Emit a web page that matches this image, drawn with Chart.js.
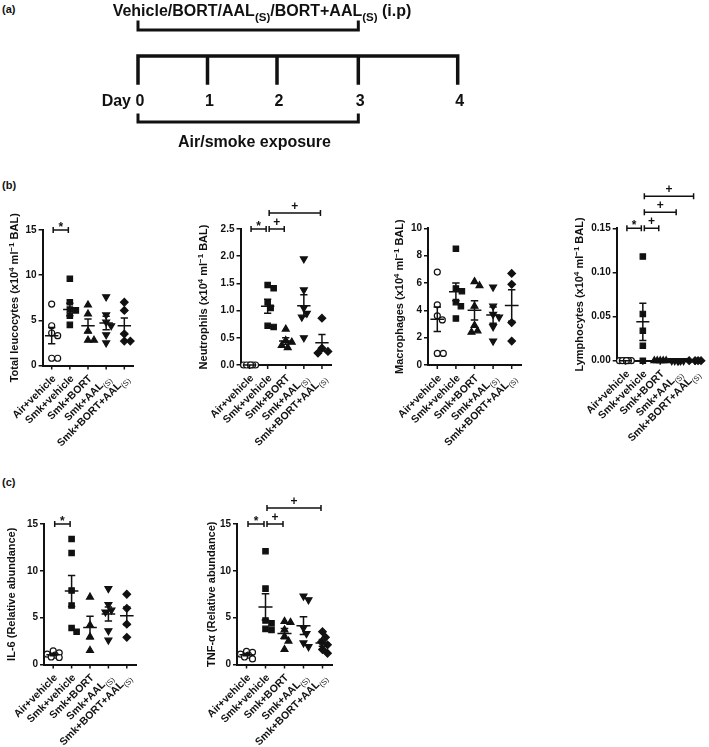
<!DOCTYPE html>
<html>
<head>
<meta charset="utf-8">
<script src="https://cdn.jsdelivr.net/npm/chart.js@4.4.0/dist/chart.umd.min.js"></script>
<style>
  body { margin: 0; background: #fff; width: 709px; height: 747px; position: relative; overflow: hidden; font-family: 'Liberation Sans', Arial, sans-serif; }
  canvas { position: absolute; }
  .panel { position: absolute; left: 2px; font-size: 11px; font-weight: bold; color: #111; }
</style>
</head>
<body>
<div class="panel" style="top:3px">(a)</div>
<div class="panel" style="top:179px">(b)</div>
<div class="panel" style="top:476px">(c)</div>

<script>
// groups, markers
const categories = ['Air+vehicle', 'Smk+vehicle', 'Smk+BORT', 'Smk+AAL(S)', 'Smk+BORT+AAL(S)'];
const markerStyle = ['circle', 'rect', 'triangle', 'triangle', 'rectRot'];
const markerRotation = [0, 0, 0, 180, 0];
const markerFill = ['#fff', '#111', '#111', '#111', '#111'];
const markerRadius = [3, 3.8, 4, 4, 3.8];

// (a) protocol timeline
const dayLabels = ['0', '1', '2', '3', '4'];
const dayAt = [0, 1, 2, 3.17, 4.6];
const treatmentDays = [0, 3];
const exposureDays = [0, 3];

// (b) BAL cells (x10^4 per ml)
const leucocytes = [[6.8, 4.4, 3.6, 3.3, 0.8, 0.8], [9.6, 7.0, 6.2, 6.1, 5.5, 4.5], [6.7, 5.7, 3.8, 2.8, 2.8], [7.6, 5.6, 4.8, 4.4, 3.4, 2.5], [7.0, 6.1, 3.5, 2.7, 2.7]];
const leucocytesMean = [3.3, 6.2, 4.4, 4.7, 4.4];
const leucocytesSem = [0.9, 0.7, 0.75, 0.75, 0.85];
const leucocytesTicks = [0, 5, 10, 15];

const neutrophils = [[0, 0, 0, 0, 0, 0], [1.47, 1.41, 1.15, 1.05, 0.72, 0.70], [0.66, 0.45, 0.42, 0.36, 0.32], [1.95, 1.38, 1.05, 0.95, 0.88, 0.5], [0.86, 0.31, 0.25, 0.22]];
const neutrophilsMean = [0, 1.08, 0.44, 1.09, 0.41];
const neutrophilsSem = [0, 0.13, 0.06, 0.2, 0.15];
const neutrophilsTicks = [0, 0.5, 1.0, 1.5, 2.0, 2.5];

const macrophages = [[6.8, 4.4, 3.6, 3.3, 0.85, 0.85], [8.5, 5.6, 5.4, 4.6, 4.3, 3.4], [6.1, 5.8, 4.3, 2.9, 2.5, 2.4], [5.7, 4.3, 3.7, 3.5, 2.8, 1.75], [6.7, 5.9, 3.1, 1.75]];
const macrophagesMean = [3.35, 5.35, 4.0, 3.65, 4.35];
const macrophagesSem = [0.9, 0.65, 0.7, 0.6, 1.15];
const macrophagesTicks = [0, 2, 4, 6, 8, 10];

const lymphocytes = [[0, 0, 0, 0, 0, 0], [0.118, 0.053, 0.034, 0.017, 0], [0, 0, 0, 0, 0], [0, 0, 0, 0, 0, 0], [0, 0, 0, 0]];
const lymphocytesMean = [0, 0.044, 0, 0, 0];
const lymphocytesSem = [0, 0.021, 0, 0, 0];
const lymphocytesTicks = [0, 0.05, 0.10, 0.15];

// (c) relative abundance
const il6 = [[1.45, 1.25, 1.1, 1.0, 0.8, 0.75], [13.4, 11.9, 7.9, 6.3, 3.9, 3.5], [7.2, 4.2, 2.95, 1.5], [8.1, 6.4, 5.8, 5.6, 3.6, 2.6], [7.5, 6.0, 4.3, 2.9]];
const il6Mean = [1.05, 7.85, 3.95, 5.4, 5.2];
const il6Sem = [0.12, 1.65, 1.2, 0.75, 0.95];
const il6Ticks = [0, 5, 10, 15];

const tnf = [[1.4, 1.3, 1.1, 1.0, 0.8, 0.6], [12.1, 8.1, 4.7, 4.4, 3.8, 3.7], [4.6, 4.5, 3.7, 3.0, 2.5, 1.6], [7.3, 6.9, 3.9, 3.3, 2.3, 1.9], [3.5, 2.9, 2.4, 2.1, 1.6, 1.2]];
const tnfMean = [1.05, 6.15, 3.3, 4.15, 2.3];
const tnfSem = [0.12, 1.4, 0.55, 0.95, 0.36];
const tnfTicks = [0, 5, 10, 15];

// significance brackets: from/to group, stacking tier, symbol
const leucocytesSig = [{ from: 0, to: 1, tier: 0, sym: '*' }];
const neutrophilsSig = [{ from: 0, to: 1, tier: 0, sym: '*' }, { from: 1, to: 2, tier: 0, sym: '+' }, { from: 1, to: 4, tier: 1, sym: '+' }];
const lymphocytesSig = [{ from: 0, to: 1, tier: 0, sym: '*' }, { from: 1, to: 2, tier: 0, sym: '+' }, { from: 1, to: 3, tier: 1, sym: '+' }, { from: 1, to: 4, tier: 2, sym: '+' }];
const il6Sig = [{ from: 0, to: 1, tier: 0, sym: '*' }];
const tnfSig = [{ from: 0, to: 1, tier: 0, sym: '*' }, { from: 1, to: 2, tier: 0, sym: '+' }, { from: 1, to: 4, tier: 1, sym: '+' }];

const FONT = '"Liberation Sans", Arial, sans-serif';
const INK = '#111';
Chart.defaults.font.family = FONT;
Chart.defaults.color = INK;

// text with sub/superscripts: parts = [[text, ''|'sup'|'sub'], ...]
function drawRich(ctx, parts, x, y, size, align, subBold) {
    const fontFor = p => {
        const s = p[1] ? size * 0.72 : size;
        const w = (p[1] === 'sub' && !subBold) ? '' : 'bold ';
        return w + s + 'px ' + FONT;
    };
    let total = 0;
    const widths = parts.map(p => {
        ctx.font = fontFor(p);
        const w = ctx.measureText(p[0]).width;
        total += w;
        return w;
    });
    let cx = align === 'right' ? x - total : align === 'center' ? x - total / 2 : x;
    ctx.textAlign = 'left';
    ctx.textBaseline = 'alphabetic';
    ctx.fillStyle = INK;
    parts.forEach((p, i) => {
        ctx.font = fontFor(p);
        const dy = p[1] === 'sup' ? -size * 0.38 : p[1] === 'sub' ? size * 0.3 : 0;
        ctx.fillText(p[0], cx, y + dy);
        cx += widths[i];
    });
}

function labelParts(str) {
    return str.endsWith('(S)') ? [[str.slice(0, -3), ''], ['(S)', 'sub']] : [[str, '']];
}

function perMl(name) {
    return [[name + ' (x10', ''], ['4', 'sup'], [' ml', ''], ['\u22121', 'sup'], [' BAL)', '']];
}

// small beeswarm: each point takes the sideways slot (within +/-6 px) that keeps it
// farthest from points already placed, nearest the centre on ties
function spread(vals, ppu, unitPx) {
    const order = vals.map((v, j) => j).sort((a, b) => vals[b] - vals[a]);
    const slots = [0];
    for (let k = 1; k <= 6; k++) slots.push(k, -k);
    const placed = [];
    const off = vals.map(() => 0);
    order.forEach(j => {
        const py = vals[j] * ppu;
        let best = 0, bestScore = -1;
        slots.forEach(s => {
            let d = 6;
            placed.forEach(p => { d = Math.min(d, Math.hypot(p.x - s, p.y - py)); });
            if (d > bestScore + 0.01) { bestScore = d; best = s; }
        });
        placed.push({ x: best, y: py });
        off[j] = best / unitPx;
    });
    return off;
}

function addCanvas(id, left, top, w, h) {
    const c = document.createElement('canvas');
    c.id = id;
    c.width = w;
    c.height = h;
    c.style.left = left + 'px';
    c.style.top = top + 'px';
    document.body.appendChild(c);
    return c;
}

// Panel (a) - timeline
const timelinePlugin = {
    id: 'timeline',
    afterDraw(chart) {
        const ctx = chart.ctx;
        const px = d => chart.scales.x.getPixelForValue(dayAt[d]);
        ctx.save();
        ctx.strokeStyle = INK;
        ctx.lineCap = 'square';

        drawRich(ctx, [['Vehicle/BORT/AAL', ''], ['(S)', 'sub'], ['/BORT+AAL', ''], ['(S)', 'sub'], [' (i.p)', '']], 262, 16, 16, 'center', true);

        // treatment bracket
        ctx.lineWidth = 3;
        ctx.beginPath();
        ctx.moveTo(px(treatmentDays[0]), 22);
        ctx.lineTo(px(treatmentDays[0]), 30);
        ctx.lineTo(px(treatmentDays[1]), 30);
        ctx.lineTo(px(treatmentDays[1]), 22);
        ctx.stroke();

        // timeline with day ticks
        ctx.lineWidth = 3.5;
        ctx.beginPath();
        ctx.moveTo(px(0), 56);
        ctx.lineTo(px(dayAt.length - 1), 56);
        dayAt.forEach((d, i) => {
            ctx.moveTo(px(i), 56);
            ctx.lineTo(px(i), 83);
        });
        ctx.stroke();

        drawRich(ctx, [['Day', '']], 131, 106, 16, 'right');
        dayLabels.forEach((t, i) => drawRich(ctx, [[t, '']], px(i) + 2, 106, 16, 'center'));

        // exposure bracket
        ctx.lineWidth = 3;
        ctx.beginPath();
        ctx.moveTo(px(exposureDays[0]), 115);
        ctx.lineTo(px(exposureDays[0]), 122);
        ctx.lineTo(px(exposureDays[1]), 122);
        ctx.lineTo(px(exposureDays[1]), 115);
        ctx.stroke();

        drawRich(ctx, [['Air/smoke exposure', '']], 254.5, 146.5, 16, 'center');
        ctx.restore();
    }
};

new Chart(addCanvas('timeline', 0, 0, 709, 160), {
    type: 'scatter',
    data: { datasets: [] },
    options: {
        animation: false,
        responsive: false,
        events: [],
        layout: { padding: { left: 138, right: 709 - 457.7, top: 0, bottom: 0 } },
        scales: {
            x: { display: false, min: 0, max: dayAt[dayAt.length - 1] },
            y: { display: false, min: 0, max: 1 }
        },
        plugins: { legend: { display: false }, tooltip: { enabled: false } }
    },
    plugins: [timelinePlugin]
});

// Panels (b) and (c) - scatter dot plots with mean +/- SEM
function dotPlot(id, box, values, means, sems, yTicks, decimals, title, brackets) {
    const yMax = yTicks[yTicks.length - 1];
    const ppu = (box.bottom - box.top) / yMax;
    const unitPx = (box.right - box.left) / categories.length;

    const extras = {
        id: 'extras',
        afterDatasetsDraw(chart) {
            const { ctx, scales: { x, y } } = chart;
            ctx.save();
            ctx.strokeStyle = INK;
            ctx.lineWidth = 1.5;
            means.forEach((m, i) => {
                const cx = x.getPixelForValue(i);
                const ym = y.getPixelForValue(m);
                const yt = y.getPixelForValue(m + sems[i]);
                const yb = y.getPixelForValue(Math.max(0, m - sems[i]));
                const hw = unitPx * 0.37, cw = unitPx * 0.2;
                ctx.beginPath();
                ctx.moveTo(cx - hw, ym); ctx.lineTo(cx + hw, ym);
                ctx.moveTo(cx, yt); ctx.lineTo(cx, yb);
                ctx.moveTo(cx - cw, yt); ctx.lineTo(cx + cw, yt);
                ctx.moveTo(cx - cw, yb); ctx.lineTo(cx + cw, yb);
                ctx.stroke();
            });
            ctx.restore();
        },
        afterDraw(chart) {
            const { ctx, chartArea, scales: { x } } = chart;
            ctx.save();
            ctx.strokeStyle = INK;
            ctx.fillStyle = INK;

            // x tick marks and rotated group labels
            ctx.lineWidth = 1.5;
            categories.forEach((c, i) => {
                const cx = x.getPixelForValue(i);
                ctx.beginPath();
                ctx.moveTo(cx, chartArea.bottom);
                ctx.lineTo(cx, chartArea.bottom + 4);
                ctx.stroke();
                ctx.save();
                ctx.translate(cx + 2, chartArea.bottom + 11);
                ctx.rotate(-Math.PI / 4);
                drawRich(ctx, labelParts(c), 0, 3.7, 10.5, 'right', false);
                ctx.restore();
            });

            // y title (canvas-local x)
            ctx.save();
            ctx.translate(box.titleX - box.cl, (chartArea.top + chartArea.bottom) / 2);
            ctx.rotate(-Math.PI / 2);
            drawRich(ctx, title, 0, 4, 11, 'center', false);
            ctx.restore();

            // significance brackets
            ctx.lineWidth = 1.5;
            brackets.forEach(b => {
                const yy = chartArea.top - b.tier * 16;
                const x1 = x.getPixelForValue(b.from) + 1.5;
                const x2 = x.getPixelForValue(b.to) - 1.5;
                ctx.beginPath();
                ctx.moveTo(x1, yy); ctx.lineTo(x2, yy);
                ctx.moveTo(x1, yy - 3); ctx.lineTo(x1, yy + 3);
                ctx.moveTo(x2, yy - 3); ctx.lineTo(x2, yy + 3);
                ctx.stroke();
                const base = b.sym === '*' ? yy + 0.5 : yy - 3.5;
                drawRich(ctx, [[b.sym, '']], (x1 + x2) / 2, base, 12, 'center');
            });
            ctx.restore();
        }
    };

    const datasets = values.map((vals, i) => {
        const off = spread(vals, ppu, unitPx);
        return {
            data: vals.map((v, j) => ({ x: i + off[j], y: v })),
            pointStyle: markerStyle[i],
            pointRotation: markerRotation[i],
            pointRadius: markerRadius[i],
            pointBackgroundColor: markerFill[i],
            pointBorderColor: INK,
            pointBorderWidth: 1.2,
            showLine: false,
            clip: false
        };
    });

    new Chart(addCanvas(id, box.cl, box.ct, box.cw, box.ch), {
        type: 'scatter',
        data: { datasets },
        options: {
            animation: false,
            responsive: false,
            events: [],
            layout: {
                padding: {
                    left: 0,
                    top: box.top - box.ct,
                    right: box.cl + box.cw - box.right,
                    bottom: box.ct + box.ch - box.bottom
                }
            },
            scales: {
                x: {
                    type: 'linear', min: -0.5, max: 4.5,
                    grid: { display: false },
                    ticks: { display: false },
                    border: { display: true, color: INK, width: 2 },
                    afterFit: s => { s.height = 0; }
                },
                y: {
                    type: 'linear', min: 0, max: yMax,
                    afterBuildTicks: s => { s.ticks = yTicks.map(v => ({ value: v })); },
                    ticks: {
                        color: INK, padding: 2,
                        font: { size: 10, weight: 'bold' },
                        callback: v => v.toFixed(decimals)
                    },
                    grid: { display: true, drawOnChartArea: false, drawTicks: true, tickLength: 4, color: INK, lineWidth: 1.5 },
                    border: { display: true, color: INK, width: 2 },
                    afterFit: s => { s.width = box.left - box.cl; }
                }
            },
            plugins: { legend: { display: false }, tooltip: { enabled: false } }
        },
        plugins: [extras]
    });
}

dotPlot('leucocytes', { cl: 0, ct: 180, cw: 160, ch: 290, left: 42.6, right: 133.4, top: 230, bottom: 365.5, titleX: 14 },
    leucocytes, leucocytesMean, leucocytesSem, leucocytesTicks, 0, perMl('Total leucocytes'), leucocytesSig);
dotPlot('neutrophils', { cl: 175, ct: 180, cw: 165, ch: 290, left: 240.5, right: 331, top: 229, bottom: 365, titleX: 203 },
    neutrophils, neutrophilsMean, neutrophilsSem, neutrophilsTicks, 1, perMl('Neutrophils'), neutrophilsSig);
dotPlot('macrophages', { cl: 360, ct: 180, cw: 170, ch: 290, left: 428, right: 521, top: 228.3, bottom: 365, titleX: 399 },
    macrophages, macrophagesMean, macrophagesSem, macrophagesTicks, 0, perMl('Macrophages'), []);
dotPlot('lymphocytes', { cl: 545, ct: 180, cw: 164, ch: 290, left: 616.7, right: 705, top: 228.3, bottom: 360.7, titleX: 579 },
    lymphocytes, lymphocytesMean, lymphocytesSem, lymphocytesTicks, 2, perMl('Lymphocytes'), lymphocytesSig);
dotPlot('il6', { cl: 0, ct: 488, cw: 160, ch: 259, left: 44, right: 136, top: 524, bottom: 664.5, titleX: 11 },
    il6, il6Mean, il6Sem, il6Ticks, 0, [['IL-6 (Relative abundance)', '']], il6Sig);
dotPlot('tnf', { cl: 170, ct: 488, cw: 175, ch: 259, left: 237, right: 332, top: 524, bottom: 664.5, titleX: 211 },
    tnf, tnfMean, tnfSem, tnfTicks, 0, [['TNF-\u03b1 (Relative abundance)', '']], tnfSig);
</script>
</body>
</html>
